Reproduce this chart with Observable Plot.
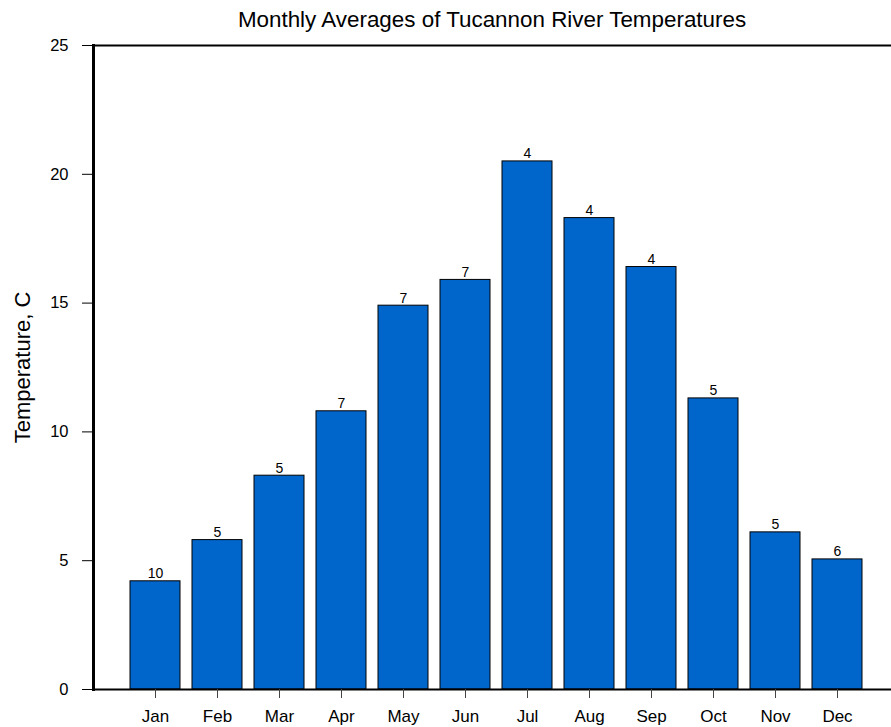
<!DOCTYPE html>
<html>
<head>
<meta charset="utf-8">
<script src="https://cdn.jsdelivr.net/npm/d3@7"></script>
<script src="https://cdn.jsdelivr.net/npm/@observablehq/plot@0.6"></script>
<style>
  body { margin: 0; background: #fff; font-family: "Liberation Sans", Arial, Helvetica, sans-serif; }
  #title { box-sizing: border-box; width: 891px; height: 34px; padding-top: 8px; padding-left: 93px;
           line-height: 24px; font-size: 22.4px; text-align: center; color: #000; white-space: nowrap; }
</style>
</head>
<body>
<div id="title">Monthly Averages of Tucannon River Temperatures</div>
<div id="chart"></div>
<script>
const months = ["Jan","Feb","Mar","Apr","May","Jun","Jul","Aug","Sep","Oct","Nov","Dec"];
const temps  = [4.2, 5.8, 8.3, 10.8, 14.9, 15.9, 20.5, 18.3, 16.4, 11.3, 6.1, 5.05];
const counts = [10, 5, 5, 7, 7, 7, 4, 4, 4, 5, 5, 6];
const yTicks = [0, 5, 10, 15, 20, 25];
const yLabel = "Temperature, C";

const data = months.map((m, i) => ({month: m, temp: temps[i], n: counts[i]}));

const chart = Plot.plot({
  width: 891,
  height: 693,
  marginTop: 11,
  marginBottom: 38,
  marginLeft: 93,
  marginRight: 0,
  style: {fontFamily: '"Liberation Sans", Arial, Helvetica, sans-serif', color: "#000", background: "#fff"},
  x: {domain: months, range: [124, 868], paddingInner: 0.19, paddingOuter: 0.095, label: null},
  y: {domain: [0, 25], label: null},
  marks: [
    Plot.barY(data, {x: "month", y: "temp", fill: "#0066CC", stroke: "#000", strokeWidth: 1}),
    Plot.text(data, {x: "month", y: "temp", text: d => String(d.n), lineAnchor: "bottom", dy: -3, fontSize: 14, fill: "#000"}),
    Plot.ruleY([0, 25], {stroke: "#000", strokeWidth: 2}),
    Plot.frame({anchor: "left", stroke: "#000", strokeWidth: 3}),
    Plot.axisY({ticks: yTicks, tickSize: 11, tickPadding: 14, fontSize: 16.5, label: null, stroke: "#000"}),
    Plot.axisX({tickSize: 9, tickPadding: 11, fontSize: 17, label: null, stroke: "#444"}),
    Plot.text([yLabel], {frameAnchor: "left", textAnchor: "middle", rotate: -90, dx: -71, fontSize: 22, fill: "#000"})
  ]
});
document.getElementById("chart").appendChild(chart);
</script>
</body>
</html>
